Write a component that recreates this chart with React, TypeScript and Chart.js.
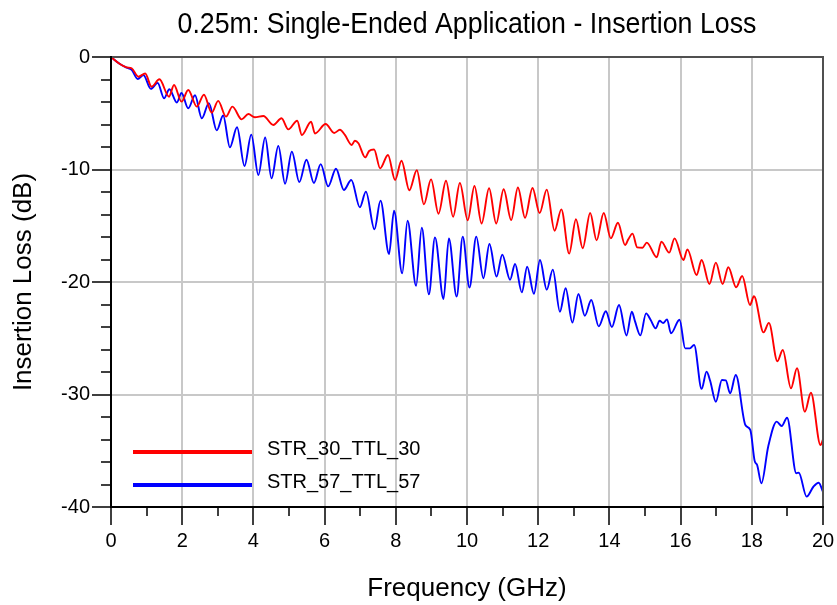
import React, { useEffect, useRef } from 'react';
import { Chart, registerables } from 'chart.js';

Chart.register(...registerables);

const TITLE = '0.25m: Single-Ended Application - Insertion Loss';
const X_TITLE = 'Frequency (GHz)';
const Y_TITLE = 'Insertion Loss (dB)';
const SERIES_NAMES = ['STR_30_TTL_30', 'STR_57_TTL_57'];
const SERIES_COLORS = ['rgb(255,0,0)', 'rgb(0,0,255)'];

const X_TICKS = [0, 2, 4, 6, 8, 10, 12, 14, 16, 18, 20];
const X_MINOR = [1, 3, 5, 7, 9, 11, 13, 15, 17, 19];
const Y_TICKS = [0, -10, -20, -30, -40];
const Y_MINOR = [-2, -4, -6, -8, -12, -14, -16, -18, -22, -24, -26, -28, -32, -34, -36, -38];

// STR_30_TTL_30 (red)
const redFreq = [
  0, 0.25, 0.44, 0.58, 0.77, 0.96, 1.14, 1.36, 1.63, 1.77, 1.98, 2.17, 2.41, 2.61, 2.83, 3.01,
  3.23, 3.41, 3.67, 3.86, 4.04, 4.28, 4.56, 4.79, 4.98, 5.23, 5.36, 5.62, 5.73, 6.03, 6.27, 6.43,
  6.57, 6.76, 6.85, 6.95, 7.14, 7.25, 7.39, 7.56, 7.78, 7.98, 8.16, 8.38, 8.59, 8.79, 8.99, 9.2,
  9.41, 9.61, 9.8, 10.02, 10.21, 10.41, 10.62, 10.82, 11.03, 11.24, 11.43, 11.63, 11.84, 12.04,
  12.24, 12.46, 12.65, 12.87, 13.06, 13.25, 13.46, 13.64, 13.84, 14.04, 14.24, 14.44, 14.53, 14.65,
  14.78, 14.93, 15.05, 15.33, 15.46, 15.68, 15.83, 16.08, 16.19, 16.45, 16.59, 16.81, 16.99, 17.18,
  17.34, 17.56, 17.73, 17.95, 18.06, 18.33, 18.48, 18.72, 18.87, 19.1, 19.27, 19.49, 19.66, 19.93, 20,
];
const redLoss = [
  0, -0.62, -0.92, -1.0, -1.75, -1.47, -2.64, -1.98, -3.53, -2.49, -3.97, -2.93, -4.41, -3.35, -4.95, -3.9,
  -5.3, -4.41, -5.54, -5.07, -5.36, -5.24, -6.04, -5.45, -6.43, -5.66, -6.93, -5.75, -6.8, -5.96, -6.75, -6.47,
  -6.93, -7.82, -7.44, -7.67, -8.92, -8.35, -8.22, -9.9, -8.71, -10.93, -9.22, -11.85, -10.07, -13.1, -10.88, -13.93,
  -11.0, -14.2, -11.2, -14.52, -11.47, -14.8, -11.67, -14.8, -11.76, -14.49, -11.6, -14.3, -11.64, -13.87,
  -11.79, -15.45, -13.54, -17.48, -14.42, -17.0, -13.87, -16.3, -13.87, -16.12, -14.73, -16.71, -16.21, -15.7,
  -16.92, -16.95, -16.5, -17.8, -16.41, -17.39, -16.12, -18.04, -17.1, -19.38, -18.04, -20.18, -18.28, -20.18,
  -18.69, -20.47, -19.47, -22.04, -21.27, -24.48, -23.63, -27.04, -26.04, -29.45, -27.67, -31.53, -29.84, -34.5, -34.0,
];

// STR_57_TTL_57 (blue)
const blueFreq = [
  0, 0.25, 0.44, 0.58, 0.75, 0.91, 1.12, 1.31, 1.49, 1.64, 1.85, 1.98, 2.17, 2.36, 2.55, 2.75,
  2.97, 3.15, 3.34, 3.54, 3.75, 3.94, 4.14, 4.33, 4.51, 4.7, 4.89, 5.08, 5.29, 5.49, 5.7, 5.89,
  6.1, 6.32, 6.54, 6.75, 6.99, 7.16, 7.4, 7.57, 7.81, 7.95, 8.18, 8.33, 8.57, 8.73, 8.93, 9.1,
  9.34, 9.49, 9.71, 9.88, 10.07, 10.26, 10.46, 10.63, 10.83, 10.99, 11.21, 11.35, 11.54, 11.69,
  11.88, 12.05, 12.24, 12.41, 12.61, 12.77, 12.96, 13.13, 13.31, 13.49, 13.7, 13.9, 14.07, 14.27,
  14.48, 14.63, 14.72, 14.87, 15.03, 15.16, 15.3, 15.41, 15.51, 15.62, 15.73, 15.97, 16.13, 16.26,
  16.38, 16.59, 16.73, 16.83, 16.99, 17.16, 17.27, 17.39, 17.55, 17.82, 17.96, 18.08, 18.15, 18.27,
  18.46, 18.7, 18.84, 18.99, 19.25, 19.32, 19.54, 19.73, 19.88, 20,
];
const blueLoss = [
  0, -0.62, -0.95, -1.15, -1.95, -1.6, -2.83, -2.3, -3.67, -2.87, -4.05, -3.2, -4.56, -3.4, -5.45, -4.1,
  -6.52, -5.2, -8.03, -6.25, -9.69, -6.9, -10.49, -7.15, -10.79, -7.9, -11.26, -8.41, -11.12, -9.13, -11.2, -9.52,
  -11.5, -9.93, -11.82, -10.93, -13.36, -11.97, -15.32, -12.77, -17.51, -13.66, -19.23, -14.55, -20.33, -15.17, -21.09, -16.03,
  -21.51, -16.12, -21.3, -15.97, -20.5, -15.97, -19.67, -16.62, -19.52, -17.57, -19.8, -18.4, -20.92, -18.64,
  -21.05, -18.04, -20.68, -18.9, -22.64, -20.56, -23.61, -21.07, -23.0, -21.6, -23.94, -22.6, -24.0, -22.04,
  -24.75, -22.64, -23.5, -24.74, -22.79, -23.38, -24.12, -23.44, -23.65, -23.32, -24.56, -23.35, -25.9, -25.9,
  -25.6, -29.5, -27.97, -28.78, -30.64, -28.71, -28.74, -29.9, -28.27, -32.71, -33.16, -35.9, -36.27, -37.9,
  -34.64, -32.41, -32.8, -32.06, -37.0, -36.95, -39.08, -38.2, -37.84, -38.65,
];

const FONT = '"Liberation Sans", Arial, sans-serif';

const decorPlugin = {
  id: 'decor',
  afterDraw(chart: any) {
    const { ctx, chartArea: a, scales } = chart;
    const xs = scales.x;
    const ys = scales.y;
    ctx.save();

    // frame
    ctx.lineCap = 'square';
    ctx.lineWidth = 2;
    ctx.strokeStyle = '#505050';
    ctx.beginPath();
    ctx.moveTo(a.left, a.top);
    ctx.lineTo(a.right, a.top);
    ctx.lineTo(a.right, a.bottom);
    ctx.stroke();
    ctx.strokeStyle = '#000';
    ctx.beginPath();
    ctx.moveTo(a.left, a.top);
    ctx.lineTo(a.left, a.bottom);
    ctx.lineTo(a.right, a.bottom);
    ctx.stroke();

    // tick marks
    ctx.lineCap = 'butt';
    ctx.lineWidth = 1.5;
    ctx.strokeStyle = '#000';
    ctx.beginPath();
    X_TICKS.forEach((v) => {
      const px = Math.round(xs.getPixelForValue(v));
      ctx.moveTo(px, a.bottom);
      ctx.lineTo(px, a.bottom + 18);
    });
    X_MINOR.forEach((v) => {
      const px = Math.round(xs.getPixelForValue(v));
      ctx.moveTo(px, a.bottom);
      ctx.lineTo(px, a.bottom + 9);
    });
    Y_TICKS.forEach((v) => {
      const py = Math.round(ys.getPixelForValue(v));
      ctx.moveTo(a.left - 19, py);
      ctx.lineTo(a.left, py);
    });
    Y_MINOR.forEach((v) => {
      const py = Math.round(ys.getPixelForValue(v));
      ctx.moveTo(a.left - 10, py);
      ctx.lineTo(a.left, py);
    });
    ctx.stroke();

    // legend
    const legendRows = [452, 485];
    SERIES_NAMES.forEach((name, i) => {
      ctx.strokeStyle = SERIES_COLORS[i];
      ctx.lineWidth = 4;
      ctx.beginPath();
      ctx.moveTo(a.left + 22, legendRows[i]);
      ctx.lineTo(a.left + 141, legendRows[i]);
      ctx.stroke();
      ctx.fillStyle = '#000';
      ctx.font = '20px ' + FONT;
      ctx.textAlign = 'left';
      ctx.textBaseline = 'alphabetic';
      ctx.fillText(name, a.left + 156, legendRows[i] + 3);
    });

    // titles
    const cx = (a.left + a.right) / 2;
    ctx.fillStyle = '#000';
    ctx.textAlign = 'center';
    ctx.textBaseline = 'alphabetic';
    ctx.font = '29px ' + FONT;
    ctx.fillText(TITLE, cx, 33, 579);
    ctx.font = '26px ' + FONT;
    ctx.fillText(X_TITLE, cx, 596);
    ctx.save();
    ctx.translate(24, (a.top + a.bottom) / 2);
    ctx.rotate(-Math.PI / 2);
    ctx.textBaseline = 'middle';
    ctx.fillText(Y_TITLE, 0, 0);
    ctx.restore();

    ctx.restore();
  },
};

export default function App() {
  const canvasRef = useRef<HTMLCanvasElement | null>(null);

  useEffect(() => {
    const canvas = canvasRef.current;
    if (!canvas) return;
    const chart = new Chart(canvas, {
      type: 'line',
      data: {
        datasets: [
          {
            label: SERIES_NAMES[0],
            data: redFreq.map((f, i) => ({ x: f, y: redLoss[i] })),
            borderColor: SERIES_COLORS[0],
            borderWidth: 1.9,
            pointRadius: 0,
            fill: false,
            cubicInterpolationMode: 'monotone',
          },
          {
            label: SERIES_NAMES[1],
            data: blueFreq.map((f, i) => ({ x: f, y: blueLoss[i] })),
            borderColor: SERIES_COLORS[1],
            borderWidth: 1.9,
            pointRadius: 0,
            fill: false,
            cubicInterpolationMode: 'monotone',
          },
        ],
      },
      options: {
        animation: false,
        responsive: false,
        devicePixelRatio: 1,
        layout: { padding: { left: 0, right: 14, top: 57, bottom: 0 } },
        plugins: {
          legend: { display: false },
          title: { display: false },
          tooltip: { enabled: false },
        },
        scales: {
          x: {
            type: 'linear',
            min: 0,
            max: 20,
            afterBuildTicks: (scale: any) => {
              scale.ticks = X_TICKS.map((v) => ({ value: v }));
            },
            afterFit: (scale: any) => {
              scale.height = 98;
              scale.paddingLeft = 0;
              scale.paddingRight = 0;
            },
            ticks: {
              autoSkip: false,
              maxRotation: 0,
              padding: 22,
              color: '#000',
              font: { family: FONT, size: 20 },
            },
            grid: {
              color: 'rgb(200,200,200)',
              lineWidth: 2,
              drawTicks: false,
            },
            border: { display: false },
          },
          y: {
            type: 'linear',
            min: -40,
            max: 0,
            afterBuildTicks: (scale: any) => {
              scale.ticks = Y_TICKS.map((v) => ({ value: v }));
            },
            afterFit: (scale: any) => {
              scale.width = 111;
              scale.paddingTop = 0;
              scale.paddingBottom = 0;
            },
            ticks: {
              autoSkip: false,
              padding: 21,
              color: '#000',
              font: { family: FONT, size: 20 },
            },
            grid: {
              color: 'rgb(200,200,200)',
              lineWidth: 2,
              drawTicks: false,
            },
            border: { display: false },
          },
        },
      },
      plugins: [decorPlugin],
    } as any);
    return () => chart.destroy();
  }, []);

  return (
    <div style={{ position: 'absolute', left: 0, top: 0, width: 837, height: 605, background: '#fff' }}>
      <canvas ref={canvasRef} width={837} height={605} style={{ width: 837, height: 605, display: 'block' }} />
    </div>
  );
}
